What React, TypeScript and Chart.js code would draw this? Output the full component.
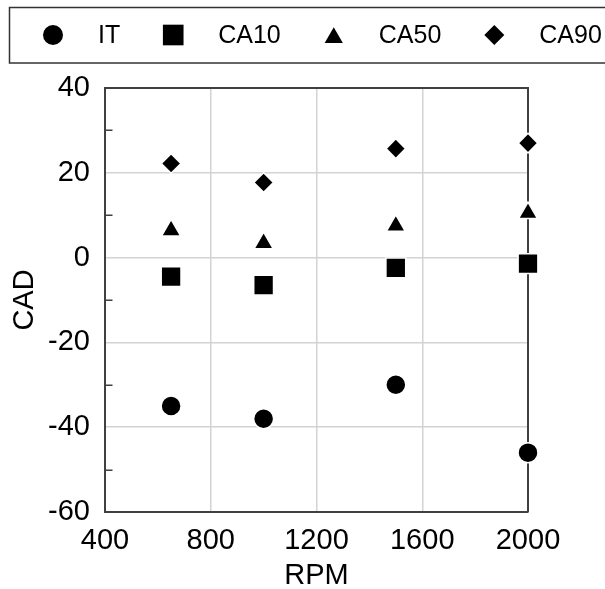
import React, { useEffect, useRef } from 'react';
import { Chart, registerables } from 'chart.js';
import { drawPoint } from 'chart.js/helpers';

Chart.register(...registerables);

const rpm = [650, 1000, 1500, 2000];
const itValues = [-35, -38, -30, -46];
const ca10Values = [-4.5, -6.5, -2.4, -1.4];
const ca50Values = [6.4, 3.4, 7.5, 10.5];
const ca90Values = [22.2, 17.7, 25.7, 27.0];
const seriesLabels = ['IT', 'CA10', 'CA50', 'CA90'];
const seriesStyles = ['circle', 'rect', 'triangle', 'rectRot'];
const chartRadii = [10, 14, 11, 9.8];
const legendRadii = [10, 14.6, 10.5, 10];
const xTicks = [400, 800, 1200, 1600, 2000];
const yTicks = [-60, -40, -20, 0, 20, 40];
const yMinorTicks = [-50, -30, -10, 10, 30];

const FONT = "'Liberation Sans', Arial, sans-serif";
const AXIS_COLOR = '#404040';
const GRID_COLOR = '#d3d3d3';

const frameAndMinorTicks = {
  id: 'frameAndMinorTicks',
  beforeDatasetsDraw(chart: any) {
    const { ctx, chartArea } = chart;
    const { left, right, top, bottom } = chartArea;
    const y = chart.scales.y;
    ctx.save();
    ctx.strokeStyle = AXIS_COLOR;
    ctx.lineWidth = 2;
    ctx.beginPath();
    ctx.moveTo(left, top);
    ctx.lineTo(right, top);
    ctx.lineTo(right, bottom);
    ctx.stroke();
    ctx.lineWidth = 1.5;
    ctx.beginPath();
    yMinorTicks.forEach((v) => {
      const py = Math.round(y.getPixelForValue(v)) + 0.25;
      ctx.moveTo(left, py);
      ctx.lineTo(left + 7.5, py);
    });
    ctx.stroke();
    ctx.restore();
  },
};

const boxLegend = {
  id: 'boxLegend',
  afterDraw(chart: any) {
    const { ctx } = chart;
    ctx.save();
    ctx.strokeStyle = '#333333';
    ctx.lineWidth = 1.5;
    ctx.strokeRect(9.5, 7.5, 700, 55.5);
    ctx.font = `25px ${FONT}`;
    ctx.textBaseline = 'middle';
    ctx.textAlign = 'left';
    const cy = 35;
    let x = 53;
    chart.data.datasets.forEach((ds: any, i: number) => {
      ctx.fillStyle = '#000';
      const r = legendRadii[i];
      const yOff = ds.pointStyle === 'triangle' ? r * 0.25 : 0;
      drawPoint(ctx, { pointStyle: ds.pointStyle, radius: r, rotation: 0, borderWidth: 0 } as any, x, cy + yOff);
      ctx.fillStyle = '#000';
      const tx = x + 45;
      ctx.fillText(ds.label, tx, cy + 1);
      const w = ctx.measureText(ds.label).width;
      x = tx + w + 53;
    });
    ctx.restore();
  },
};

export default function App() {
  const ref = useRef<HTMLCanvasElement>(null);

  useEffect(() => {
    if (!ref.current) return;
    const seriesValues = [itValues, ca10Values, ca50Values, ca90Values];
    const datasets = seriesLabels.map((label, i) => ({
      label,
      data: rpm.map((x, j) => ({ x, y: seriesValues[i][j] })),
      pointStyle: seriesStyles[i],
      pointRadius: chartRadii[i],
      pointHoverRadius: chartRadii[i],
      backgroundColor: '#000',
      borderColor: '#fff',
      pointBorderWidth: 1.5,
      borderWidth: 1.5,
      showLine: false,
      clip: false as any,
    }));
    const chart = new Chart(ref.current, {
      type: 'scatter',
      data: { datasets },
      plugins: [frameAndMinorTicks, boxLegend],
      options: {
        responsive: false,
        animation: false,
        layout: { padding: { top: 88, right: 77, left: 10, bottom: 0 } },
        plugins: { legend: { display: false }, tooltip: { enabled: false } },
        scales: {
          x: {
            type: 'linear',
            min: xTicks[0],
            max: xTicks[xTicks.length - 1],
            afterFit: (s: any) => { s.height = 77; },
            afterBuildTicks: (s: any) => { s.ticks = xTicks.map((v) => ({ value: v })); },
            ticks: {
              color: '#000', font: { family: FONT, size: 29 }, padding: 12, maxRotation: 0, autoSkip: false,
              callback: (v: any) => String(v),
            },
            grid: { color: GRID_COLOR, lineWidth: 1.5, drawTicks: false },
            border: { color: AXIS_COLOR, width: 2 },
            title: { display: true, text: 'RPM', color: '#000', font: { family: FONT, size: 29, lineHeight: 0.9 }, padding: 0 },
          },
          y: {
            type: 'linear',
            min: yTicks[0],
            max: yTicks[yTicks.length - 1],
            afterFit: (s: any) => { s.width = 95; },
            afterBuildTicks: (s: any) => { s.ticks = yTicks.map((v) => ({ value: v })); },
            ticks: {
              color: '#000', font: { family: FONT, size: 29 }, padding: 15, autoSkip: false,
              callback: (v: any) => String(v),
            },
            grid: { color: GRID_COLOR, lineWidth: 1.5, drawTicks: false },
            border: { color: AXIS_COLOR, width: 2 },
            title: { display: true, text: 'CAD', color: '#000', font: { family: FONT, size: 29, lineHeight: 1 }, padding: 0 },
          },
        },
      },
    });
    return () => chart.destroy();
  }, []);

  return (
    <div style={{ position: 'fixed', left: 0, top: 0, width: 605, height: 589, background: '#fff' }}>
      <canvas ref={ref} width={605} height={589} style={{ width: 605, height: 589, display: 'block' }} />
    </div>
  );
}
